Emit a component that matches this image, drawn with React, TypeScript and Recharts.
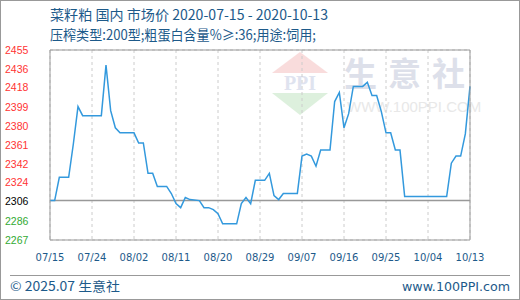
import { LineChart, Line, XAxis, YAxis, CartesianGrid, ReferenceLine } from 'recharts'

// day offsets from 2020-07-15 and the price read on that day
const days = [0, 1, 2, 4, 5, 6, 7, 11, 12, 13, 14, 15, 18, 19, 20, 21, 22, 23, 25, 26, 27, 28, 29, 30, 32, 33, 34, 35, 36, 37, 40, 41, 42, 43, 44, 46, 47, 48, 49, 50, 53, 54, 55, 56, 57, 58, 60, 61, 62, 63, 64, 65, 67, 68, 69, 70, 71, 72, 73, 74, 75, 76, 85, 86, 87, 88, 89, 90]
const prices = [2306, 2306, 2329, 2329, 2362, 2399, 2390, 2390, 2440, 2395, 2378, 2373, 2373, 2363, 2363, 2333, 2333, 2320, 2320, 2313, 2303, 2299, 2309, 2307, 2306, 2299, 2299, 2297, 2293, 2283, 2283, 2303, 2309, 2303, 2326, 2326, 2333, 2311, 2307, 2313, 2313, 2350, 2352, 2350, 2340, 2356, 2356, 2404, 2413, 2378, 2392, 2419, 2419, 2423, 2410, 2410, 2394, 2373, 2373, 2356, 2356, 2310, 2310, 2343, 2350, 2350, 2372, 2419]

const xTicks = [0, 9, 18, 27, 36, 45, 54, 63, 72, 81, 90]
const xLabels = ['07/15', '07/24', '08/02', '08/11', '08/20', '08/29', '09/07', '09/16', '09/25', '10/04', '10/13']
const yTicks = [2267, 2286, 2306, 2324, 2342, 2361, 2380, 2399, 2418, 2436, 2455]
const pctLabels = ['-1.69%', '-0.88%', '0.00%', '0.75%', '1.57%', '2.38%', '3.20%', '4.01%', '4.83%', '5.64%', '6.46%']
const base = 2306

const title = '菜籽粕 国内 市场价 2020-07-15 - 2020-10-13'
const subtitle = '压榨类型:200型;粗蛋白含量%≥:36;用途:饲用;'

const data = days.map((d, i) => ({ day: d, price: prices[i] }))

const blue = '#1d5a8a'
const tickColor = (v: number) => (v > base ? '#ff3333' : v < base ? '#33aa33' : '#000')
const tickFont = '"Liberation Sans", sans-serif'
const cjk = '"Noto Sans CJK SC", sans-serif'

function LeftTick(props: any) {
  const { y, payload } = props
  return (
    <text x={5} y={y} dy={4} fill={tickColor(payload.value)} fontSize={10.5} fontFamily={tickFont}>
      {payload.value}
    </text>
  )
}

function RightTick(props: any) {
  const { y, payload, index } = props
  return (
    <text x={475} y={y} dy={4} fill={tickColor(payload.value)} fontSize={10.5} fontFamily={tickFont}>
      {pctLabels[index]}
    </text>
  )
}

function Backdrop() {
  return (
    <svg width={520} height={300} style={{ position: 'absolute', left: 0, top: 0 }}>
      <rect x={0.5} y={0.5} width={519} height={299} fill="#fff" stroke="#999" />
      <text x={50} y={20} fill={blue} fontSize={14} fontFamily={cjk} textLength={278} lengthAdjust="spacingAndGlyphs">{title}</text>
      <text x={50} y={40} fill={blue} fontSize={14} fontFamily={cjk} textLength={266} lengthAdjust="spacingAndGlyphs">{subtitle}</text>
      {/* watermark */}
      <polygon points="300,52 272,73 328,73" fill="#f9dcdc" />
      <polygon points="272,93 328,93 300,115" fill="#ddf0dd" />
      <text x={300} y={90} textAnchor="middle" fill="#dfe3ef" fontSize={20} fontWeight="bold" fontFamily='"Liberation Serif", serif'>PPI</text>
      <text x={344} y={86} fill="#dde0ea" fontSize={33} fontWeight="bold" letterSpacing={11} fontFamily={cjk}>生意社</text>
      <text x={347} y={112} fill="#e8e8e8" fontSize={15} fontFamily='"Liberation Sans", sans-serif'>WWW.100PPI.COM</text>
      <line x1={10} y1={275.5} x2={510} y2={275.5} stroke="#999" />
      <text x={10} y={291} fill={blue} fontSize={13} fontFamily={cjk} textLength={110} lengthAdjust="spacingAndGlyphs">© 2025.07 生意社</text>
      <text x={402} y={291} fill={blue} fontSize={13} fontFamily='"DejaVu Sans", sans-serif' textLength={108} lengthAdjust="spacingAndGlyphs">www.100PPI.com</text>
    </svg>
  )
}

export default function App() {
  return (
    <div style={{ position: 'fixed', left: 0, top: 0, width: 520, height: 300 }}>
      <Backdrop />
      <div style={{ position: 'absolute', left: 0, top: 0 }}>
        <LineChart width={520} height={300} data={data} margin={{ top: 50, right: 0, bottom: 0, left: 0 }}>
          <CartesianGrid stroke="#ccc" strokeDasharray="3 3" />
          <XAxis
            dataKey="day"
            type="number"
            domain={[0, 90]}
            ticks={xTicks}
            tickFormatter={(v: number) => xLabels[xTicks.indexOf(v)]}
            height={60}
            tickLine={false}
            tickMargin={8}
            axisLine={{ stroke: '#999' }}
            tick={{ fill: blue, fontSize: 10, fontFamily: '"DejaVu Sans", sans-serif' }}
            interval={0}
          />
          <YAxis
            yAxisId="left"
            domain={[2267, 2455]}
            ticks={yTicks}
            width={50}
            tickLine={false}
            axisLine={{ stroke: '#999' }}
            tick={<LeftTick />}
            interval={0}
          />
          <YAxis
            yAxisId="right"
            orientation="right"
            domain={[2267, 2455]}
            ticks={yTicks}
            width={50}
            tickLine={false}
            axisLine={{ stroke: '#999' }}
            tick={<RightTick />}
            interval={0}
          />
          <ReferenceLine yAxisId="left" y={2455} stroke="#999" />
          <ReferenceLine yAxisId="left" y={base} stroke="#999" strokeWidth={1.5} />
          <Line
            yAxisId="left"
            type="linear"
            dataKey="price"
            stroke="#3399dd"
            strokeWidth={1.5}
            dot={false}
            isAnimationActive={false}
          />
        </LineChart>
      </div>
    </div>
  )
}
